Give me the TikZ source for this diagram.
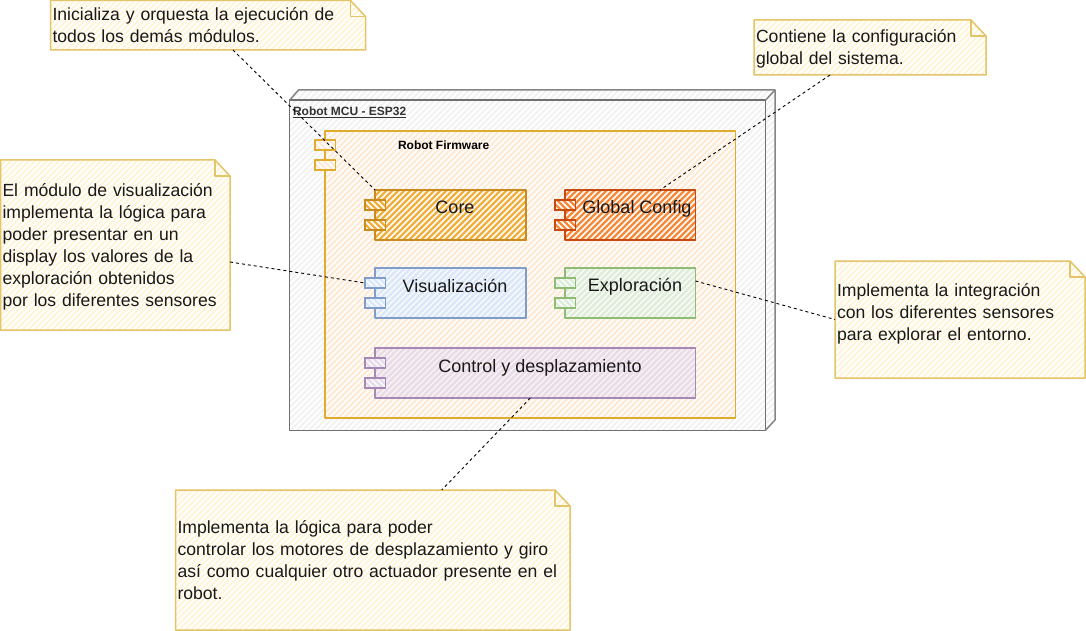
\documentclass[tikz,border=0pt]{standalone}
\usepackage{fontspec}
\setmainfont{Liberation Sans}
\definecolor{nstroke}{HTML}{E3C468}
\definecolor{nfill}{HTML}{FFF5D8}
\definecolor{fwstroke}{HTML}{E0AC30}
\definecolor{fwfill}{HTML}{FFEAD6}
\definecolor{corestroke}{HTML}{C98A20}
\definecolor{corefill}{HTML}{F0B040}
\definecolor{glstroke}{HTML}{C94A10}
\definecolor{glfill}{HTML}{F58A3C}
\definecolor{vistroke}{HTML}{7F9DC8}
\definecolor{vifill}{HTML}{DAE8FC}
\definecolor{exstroke}{HTML}{8FBC75}
\definecolor{exfill}{HTML}{DDEDDC}
\definecolor{costroke}{HTML}{A688B5}
\definecolor{cofill}{HTML}{E6DCEB}
\definecolor{outstroke}{HTML}{707070}
\definecolor{outfill}{HTML}{F2F2F2}
\tikzset{
  x=1pt,y=-1pt,
  boxnode/.style={rectangle,inner sep=0pt,outer sep=0pt},
  notetxt/.style={boxnode,align=left,font=\fontsize{17.6}{22}\selectfont,text=black!90},
  comptxt/.style={boxnode,align=center,font=\fontsize{18}{22}\selectfont,text=black!90},
  outline/.style={line width=1.5pt,line join=round},
  link/.style={black,line width=0.9pt,dash pattern=on 3pt off 3pt},
}
% #1 clip path, #2..#5 bbox, #6 colour, #7 width, #8 gap
\newcommand{\hatchfill}[8]{%
  \begin{scope}
    \clip #1;
    \pgfmathtruncatemacro{\hs}{#2+#3}
    \pgfmathtruncatemacro{\hn}{\hs+#8}
    \pgfmathtruncatemacro{\he}{#4+#5}
    \foreach \s in {\hs,\hn,...,\he}{
      \draw[#6,line width=#7] (\s-#3,#3) -- (\s-#5,#5);
    }
  \end{scope}}
% name, x1,y1,x2,y2, text
\newcommand{\notebox}[6]{%
  \pgfmathsetmacro{\nw}{#4-#2}\pgfmathsetmacro{\nh}{#5-#3}
  \pgfmathsetmacro{\tw}{\nw-4}
  \pgfmathsetmacro{\cx}{(#2+#4)/2}\pgfmathsetmacro{\cy}{(#3+#5)/2}
  \hatchfill{(#2,#3)--(#4-15,#3)--(#4,#3+16)--(#4,#5)--(#2,#5)--cycle}{#2}{#3}{#4}{#5}{nfill}{2pt}{6}
  \draw[nstroke,outline] (#2,#3)--(#4-15,#3)--(#4,#3+16)--(#4,#5)--(#2,#5)--cycle;
  \draw[nstroke,outline] (#4-15,#3)--(#4-15,#3+16)--(#4,#3+16);
  \node[notetxt,minimum width=\nw pt,minimum height=\nh pt,text width=\tw pt] (#1) at (\cx,\cy) {#6};}
% name, x1,y1,x2,y2, stroke, fill, hatch width, gap
\newcommand{\compbox}[9]{%
  \pgfmathsetmacro{\nw}{#4-#2}\pgfmathsetmacro{\nh}{#5-#3}
  \pgfmathsetmacro{\cx}{(#2+#4)/2}\pgfmathsetmacro{\cy}{(#3+#5)/2}
  \fill[white,opacity=0.55] (#2,#3) rectangle (#4,#5);
  \hatchfill{(#2,#3) rectangle (#4,#5)}{#2}{#3}{#4}{#5}{#7}{#8}{#9}
  \draw[#6,outline] (#2,#3) rectangle (#4,#5);
  \pgfmathsetmacro{\tya}{#3+15}\pgfmathsetmacro{\tyb}{#3+35}
  \foreach \tn/\ty in {a/\tya,b/\tyb}{
    \fill[white] (#2-10,\ty-5) rectangle (#2+10.5,\ty+5);
    \hatchfill{(#2-10,\ty-5) rectangle (#2+10.5,\ty+5)}{#2-10}{\ty-5}{#2+11}{\ty+5}{#7}{#8}{#9}
    \node[boxnode,draw=#6,line width=1.5pt,minimum width=20.5pt,minimum height=10pt] (#1\tn) at (#2+0.25,\ty) {};
  }
  \node[boxnode,minimum width=\nw pt,minimum height=\nh pt] (#1) at (\cx,\cy) {};
}
\begin{document}
\begin{tikzpicture}
\useasboundingbox (0,0) rectangle (1086,631);
\fill[white] (0,0) rectangle (1086,631);

% outer 3D node
\hatchfill{(289.5,100.5)--(298.5,90)--(775,90)--(775,420)--(765,430)--(289.5,430)--cycle}{289}{90}{775}{430}{outfill}{2pt}{6}
\node[boxnode,minimum width=476pt,minimum height=330pt] (mcu) at (527.5,265.25) {};
\draw[outstroke,outline] (mcu.north west)--(mcu.north east)--(mcu.south east)--(mcu.south west)--cycle;
\draw[outstroke!85,outline] (mcu.north west)--(298.5,90)--(775,90)--(775,420)--(mcu.south east);
\draw[outstroke!85,outline] (775,90)--(mcu.north east);
\node[boxnode,anchor=west,font=\fontsize{12}{14}\selectfont\bfseries,text=black!80] (mculabel) at (293,112.5) {\underline{Robot MCU - ESP32}};

% firmware
\fill[white] (325,131) rectangle (735.5,418);
\hatchfill{(325,131) rectangle (735.5,418)}{325}{131}{736}{418}{fwfill}{2.2pt}{6}
\node[boxnode,minimum width=410.5pt,minimum height=287pt] (fw) at (530.25,274.5) {};
\draw[fwstroke,outline] (fw.north west) rectangle (fw.south east);
\foreach \tn/\ty in {a/145,b/165}{
  \fill[white] (315,\ty-5) rectangle (335.5,\ty+5);
  \hatchfill{(315,\ty-5) rectangle (335.5,\ty+5)}{315}{\ty-5}{336}{\ty+5}{fwfill}{2.2pt}{6}
  \node[boxnode,draw=fwstroke,line width=1.5pt,minimum width=20.5pt,minimum height=10pt] (fwt\tn) at (325.25,\ty) {};
}
\node[boxnode,anchor=west,font=\fontsize{12}{14}\selectfont\bfseries] (fwlabel) at (398,145) {Robot Firmware};

% components
\compbox{core}{375}{190}{526}{240}{corestroke}{corefill}{2.2pt}{6}
\node[comptxt] (coretxt) at (455,207.5) {Core};
\compbox{glob}{565}{190}{695.5}{240}{glstroke}{glfill}{2.2pt}{6}
\node[comptxt] (globtxt) at (637,209) {Global Config};
\compbox{vis}{375}{268}{526}{318}{vistroke}{vifill}{2.6pt}{6}
\node[comptxt] (vistxt) at (455,286) {Visualización};
\compbox{expl}{565}{268}{695.5}{318}{exstroke}{exfill}{2.6pt}{6}
\node[comptxt] (expltxt) at (635,287) {Exploración};
\compbox{ctrl}{375}{348}{695.5}{398}{costroke}{cofill}{2.6pt}{6}
\node[comptxt] (ctrltxt) at (540,367.5) {Control y desplazamiento};

% notes
\notebox{n1}{50.5}{0.5}{365.5}{50}{Inicializa y orquesta la ejecución de\\todos los demás módulos.}
\notebox{n2}{754}{20}{986}{75}{\rule{0pt}{15pt}Contiene la configuración\\global del sistema.}
\notebox{n3}{0.5}{160}{230}{330}{\rule{0pt}{16pt}El módulo de visualización\\implementa la lógica para\\poder presentar en un\\display los valores de la\\exploración obtenidos\\por los diferentes sensores}
\notebox{n4}{835}{261}{1085}{378}{Implementa la integración\\con los diferentes sensores\\para explorar el entorno.\\[-8pt]\mbox{}}
\notebox{n5}{175.5}{490}{570}{630}{Implementa la lógica para poder\\controlar los motores de desplazamiento y giro\\así como cualquier otro actuador presente en el\\robot.}

% connectors
\draw[link] ([xshift=25pt]n1.south) -- (core.north west);
\draw[link] ([xshift=-40pt]n2.south) -- ([xshift=29.75pt]glob.north);
\draw[link] ([yshift=-17pt]n3.east) -- (visa.west);
\draw[link] ([yshift=12pt]expl.east) -- (n4.west);
\draw[link] ([xshift=-5pt]ctrl.south) -- ([xshift=69pt]n5.north);
\end{tikzpicture}
\end{document}
